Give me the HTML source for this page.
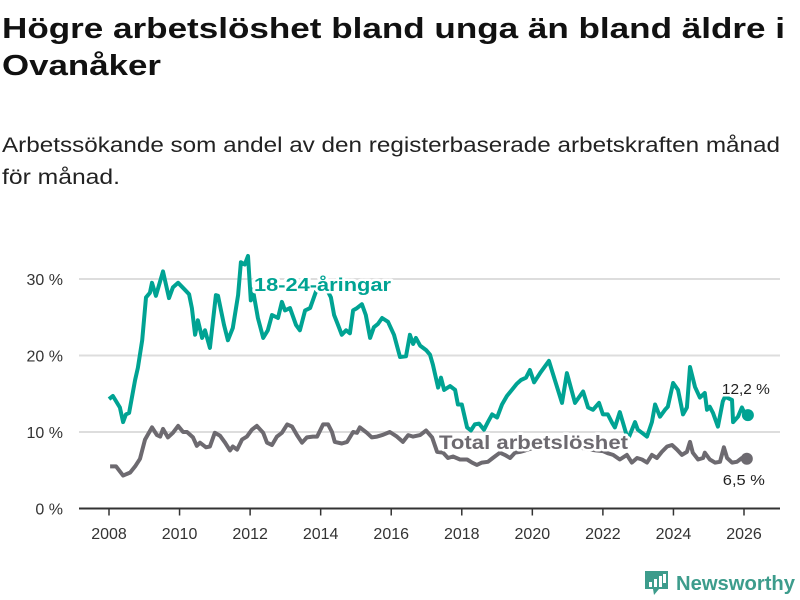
<!DOCTYPE html>
<html><head><meta charset="utf-8"><style>
html,body{margin:0;padding:0;background:#fff;}
svg{display:block;font-family:"Liberation Sans",sans-serif;}
.lbl{paint-order:stroke;stroke:#fff;stroke-width:5px;stroke-linejoin:round;}
</style></head><body>
<svg id="chart" width="800" height="600" viewBox="0 0 800 600" xmlns="http://www.w3.org/2000/svg">
<text font-weight="bold" font-size="29" fill="#111" x="2" y="38" textLength="783" lengthAdjust="spacingAndGlyphs">Högre arbetslöshet bland unga än bland äldre i</text>
<text font-weight="bold" font-size="29" fill="#111" x="2" y="75" textLength="159" lengthAdjust="spacingAndGlyphs">Ovanåker</text>
<text font-size="21" fill="#222" x="2" y="152" textLength="778" lengthAdjust="spacingAndGlyphs">Arbetssökande som andel av den registerbaserade arbetskraften månad</text>
<text font-size="21" fill="#222" x="2" y="184" textLength="118" lengthAdjust="spacingAndGlyphs">för månad.</text>
<g id="grid"></g><g id="xaxis"></g><g id="lines"></g><g id="labels"></g>
<g>
<path d="M645 571h23v18h-9l-5 6-1-6h-8z" fill="#3d9c8c"/>
<rect x="649" y="582" width="3" height="5" fill="#fff"/><rect x="654" y="579" width="3" height="8" fill="#fff"/><rect x="659" y="576" width="3" height="11" fill="#fff"/><rect x="663" y="574" width="3" height="9" fill="#fff"/>
<text x="676" y="590" font-size="20" font-weight="bold" fill="#3d9c8c" textLength="119" lengthAdjust="spacingAndGlyphs">Newsworthy</text>
</g>
</svg>
<script>
const yTicks=[0,10,20,30];
const xTicks=[2008,2010,2012,2014,2016,2018,2020,2022,2024,2026];
const youngYears=[2008.0,2008.11,2008.31,2008.4,2008.48,2008.57,2008.74,2008.82,2008.94,2009.05,2009.16,2009.22,2009.33,2009.53,2009.7,2009.81,2009.96,2010.15,2010.27,2010.35,2010.44,2010.52,2010.64,2010.72,2010.86,2011.03,2011.09,2011.26,2011.37,2011.51,2011.66,2011.74,2011.85,2011.94,2012.02,2012.08,2012.22,2012.37,2012.5,2012.62,2012.79,2012.9,2012.99,2013.13,2013.3,2013.41,2013.56,2013.7,2013.87,2014.04,2014.29,2014.38,2014.49,2014.6,2014.72,2014.83,2014.92,2015.03,2015.17,2015.28,2015.4,2015.51,2015.62,2015.74,2015.91,2016.08,2016.25,2016.42,2016.53,2016.62,2016.7,2016.82,2016.99,2017.1,2017.18,2017.33,2017.41,2017.5,2017.67,2017.81,2017.89,2018.0,2018.15,2018.26,2018.37,2018.49,2018.63,2018.74,2018.86,2019.0,2019.14,2019.28,2019.42,2019.56,2019.68,2019.82,2019.93,2020.05,2020.22,2020.47,2020.84,2020.98,2021.21,2021.44,2021.58,2021.72,2021.89,2022.0,2022.14,2022.26,2022.34,2022.48,2022.57,2022.71,2022.91,2022.99,2023.11,2023.25,2023.39,2023.48,2023.62,2023.76,2023.84,2023.99,2024.13,2024.27,2024.38,2024.47,2024.61,2024.75,2024.89,2024.95,2025.03,2025.12,2025.26,2025.4,2025.46,2025.66,2025.69,2025.83,2025.94,2026.03,2026.11];
const youngValues=[14.3,14.7,13.2,11.3,12.3,12.5,16.8,18.4,22.0,27.6,28.2,29.5,27.8,31.0,27.5,28.9,29.5,28.6,28.0,26.2,22.7,24.6,22.3,23.3,21.0,27.9,27.8,24.0,22.0,23.6,27.9,32.2,31.9,33.0,27.2,28.6,24.9,22.3,23.3,25.3,24.9,27.0,25.9,26.2,24.0,23.3,25.9,26.2,28.4,29.9,27.6,25.3,24.0,22.7,23.3,22.9,25.9,26.2,26.7,25.3,22.3,23.7,24.1,24.9,24.4,22.7,19.8,19.9,22.7,21.5,22.3,21.3,20.7,20.1,18.8,15.8,17.1,15.5,16.0,15.5,13.6,13.6,10.6,10.2,11.0,11.1,10.3,11.3,12.3,11.9,13.6,14.7,15.5,16.3,16.8,17.1,18.1,16.5,17.7,19.3,13.8,17.7,13.8,15.3,13.2,12.9,13.8,12.3,12.3,11.2,10.6,12.6,11.2,9.0,11.3,10.3,9.9,9.4,11.3,13.6,12.0,12.9,13.3,16.4,15.5,12.3,13.2,18.5,15.9,14.5,15.1,12.9,13.3,12.5,10.7,14.0,14.6,14.2,11.3,12.0,13.2,12.3,12.2];
const totalYears=[2008.03,2008.2,2008.4,2008.6,2008.74,2008.88,2009.02,2009.22,2009.36,2009.45,2009.53,2009.67,2009.81,2009.96,2010.1,2010.21,2010.38,2010.49,2010.58,2010.75,2010.86,2011.0,2011.15,2011.29,2011.43,2011.51,2011.63,2011.77,2011.91,2012.05,2012.19,2012.37,2012.48,2012.62,2012.76,2012.9,2013.05,2013.19,2013.33,2013.47,2013.61,2013.78,2013.9,2014.07,2014.21,2014.32,2014.4,2014.6,2014.75,2014.92,2015.03,2015.11,2015.31,2015.45,2015.6,2015.74,2015.96,2016.16,2016.33,2016.48,2016.62,2016.82,2016.99,2017.16,2017.3,2017.47,2017.61,2017.75,2017.95,2018.15,2018.29,2018.43,2018.57,2018.74,2018.88,2019.08,2019.22,2019.37,2019.51,2019.65,2019.8,2020.0,2020.3,2020.6,2020.9,2021.2,2021.5,2021.8,2022.0,2022.15,2022.29,2022.48,2022.68,2022.82,2022.97,2023.11,2023.25,2023.39,2023.53,2023.67,2023.82,2023.96,2024.1,2024.24,2024.38,2024.47,2024.55,2024.7,2024.84,2024.89,2025.03,2025.18,2025.32,2025.43,2025.52,2025.66,2025.8,2025.94,2026.08];
const totalValues=[5.5,5.5,4.3,4.7,5.5,6.5,9.0,10.6,9.6,9.4,10.4,9.3,9.9,10.8,10.0,10.0,9.3,8.2,8.6,8.0,8.1,9.9,9.5,8.6,7.6,8.1,7.7,9.0,9.4,10.3,10.8,9.9,8.6,8.3,9.4,9.9,11.0,10.7,9.6,8.6,9.3,9.4,9.4,11.0,11.0,10.0,8.7,8.5,8.7,10.0,9.9,10.6,9.9,9.3,9.4,9.6,10.0,9.4,8.7,9.6,9.4,9.6,10.2,9.3,7.4,7.3,6.6,6.8,6.4,6.4,6.0,5.7,6.0,6.1,6.6,7.3,7.0,6.6,7.3,7.4,7.6,7.9,8.5,9.0,8.4,8.2,7.8,7.6,7.5,7.2,7.0,6.4,7.0,6.0,6.6,6.4,6.0,7.0,6.6,7.4,8.1,8.3,7.7,7.0,7.4,8.7,7.3,6.4,6.6,7.3,6.4,6.0,6.1,8.0,6.6,6.0,6.1,6.6,6.5];
const yLabels=["0 %","10 %","20 %","30 %"];
const youngEndLabel="12,2 %", totalEndLabel="6,5 %";

const NS="http://www.w3.org/2000/svg";
const X0=109,X1=744,Y0=508.5,PXPCT=7.65;
const xs=y=>X0+(y-2008)*(X1-X0)/18;
const ys=v=>Y0-v*PXPCT;
function mk(tag,attrs,parent){const e=document.createElementNS(NS,tag);for(const k in attrs)e.setAttribute(k,attrs[k]);parent.appendChild(e);return e;}
const grid=document.getElementById('grid'),xa=document.getElementById('xaxis'),lines=document.getElementById('lines'),labels=document.getElementById('labels');
yTicks.forEach((t,i)=>{
  if(t>0){const g=mk('line',{x1:79,x2:780,y1:ys(t),y2:ys(t),stroke:'#ddd','stroke-width':2},grid);
  
  }
  const tx=mk('text',{x:63,y:ys(t)+6,'text-anchor':'end','font-size':16,fill:'#333'},grid);
  tx.textContent=yLabels[i];
  
  
});
const ax=mk('line',{x1:79,x2:780,y1:Y0,y2:Y0,stroke:'#333','stroke-width':2},xa);


xTicks.forEach(t=>{
  const tk=mk('line',{x1:xs(t),x2:xs(t),y1:Y0,y2:Y0+7,stroke:'#333','stroke-width':1.5},xa);
  
  
  const tx=mk('text',{x:xs(t),y:539,'text-anchor':'middle','font-size':16,fill:'#333'},xa);
  tx.textContent=t;
  
  
});
function series(yrs,vals,color,name){
  const d=yrs.map((y,i)=>(i?'L':'M')+xs(y).toFixed(1)+' '+ys(vals[i]).toFixed(1)).join('');
  const p=mk('path',{d:d,fill:'none',stroke:color,'stroke-width':4,'stroke-linejoin':'round'},lines);
  
  
  const n=yrs.length-1;
  const c=mk('circle',{cx:xs(yrs[n]),cy:ys(vals[n]),r:6,fill:color},lines);
  
  
}
series(totalYears,totalValues,'#6d6a70','total');
series(youngYears,youngValues,'#00a393','young');
function lab(txt,x,y,fill,size,bold,name,len){
  const t=mk('text',{x:x,y:y,fill:fill,'font-size':size,'font-weight':bold?'bold':'normal',class:'lbl'},labels);
  if(len){t.setAttribute('textLength',len);t.setAttribute('lengthAdjust','spacingAndGlyphs');}
  t.textContent=txt;
  
  
}
lab('18-24-åringar',254,291,'#00a393',18,true,'young-series-label',137);
lab('Total arbetslöshet',439,449,'#6d6a70',19,true,'total-series-label',189);
const n1=youngYears.length-1,n2=totalYears.length-1;
lab(youngEndLabel,xs(youngYears[n1])-26,ys(youngValues[n1])-21,'#222',15,false,'young-end-value',48);
lab(totalEndLabel,xs(totalYears[n2])-24,ys(totalValues[n2])+26,'#222',15,false,'total-end-value',42);
</script>
</body></html>
